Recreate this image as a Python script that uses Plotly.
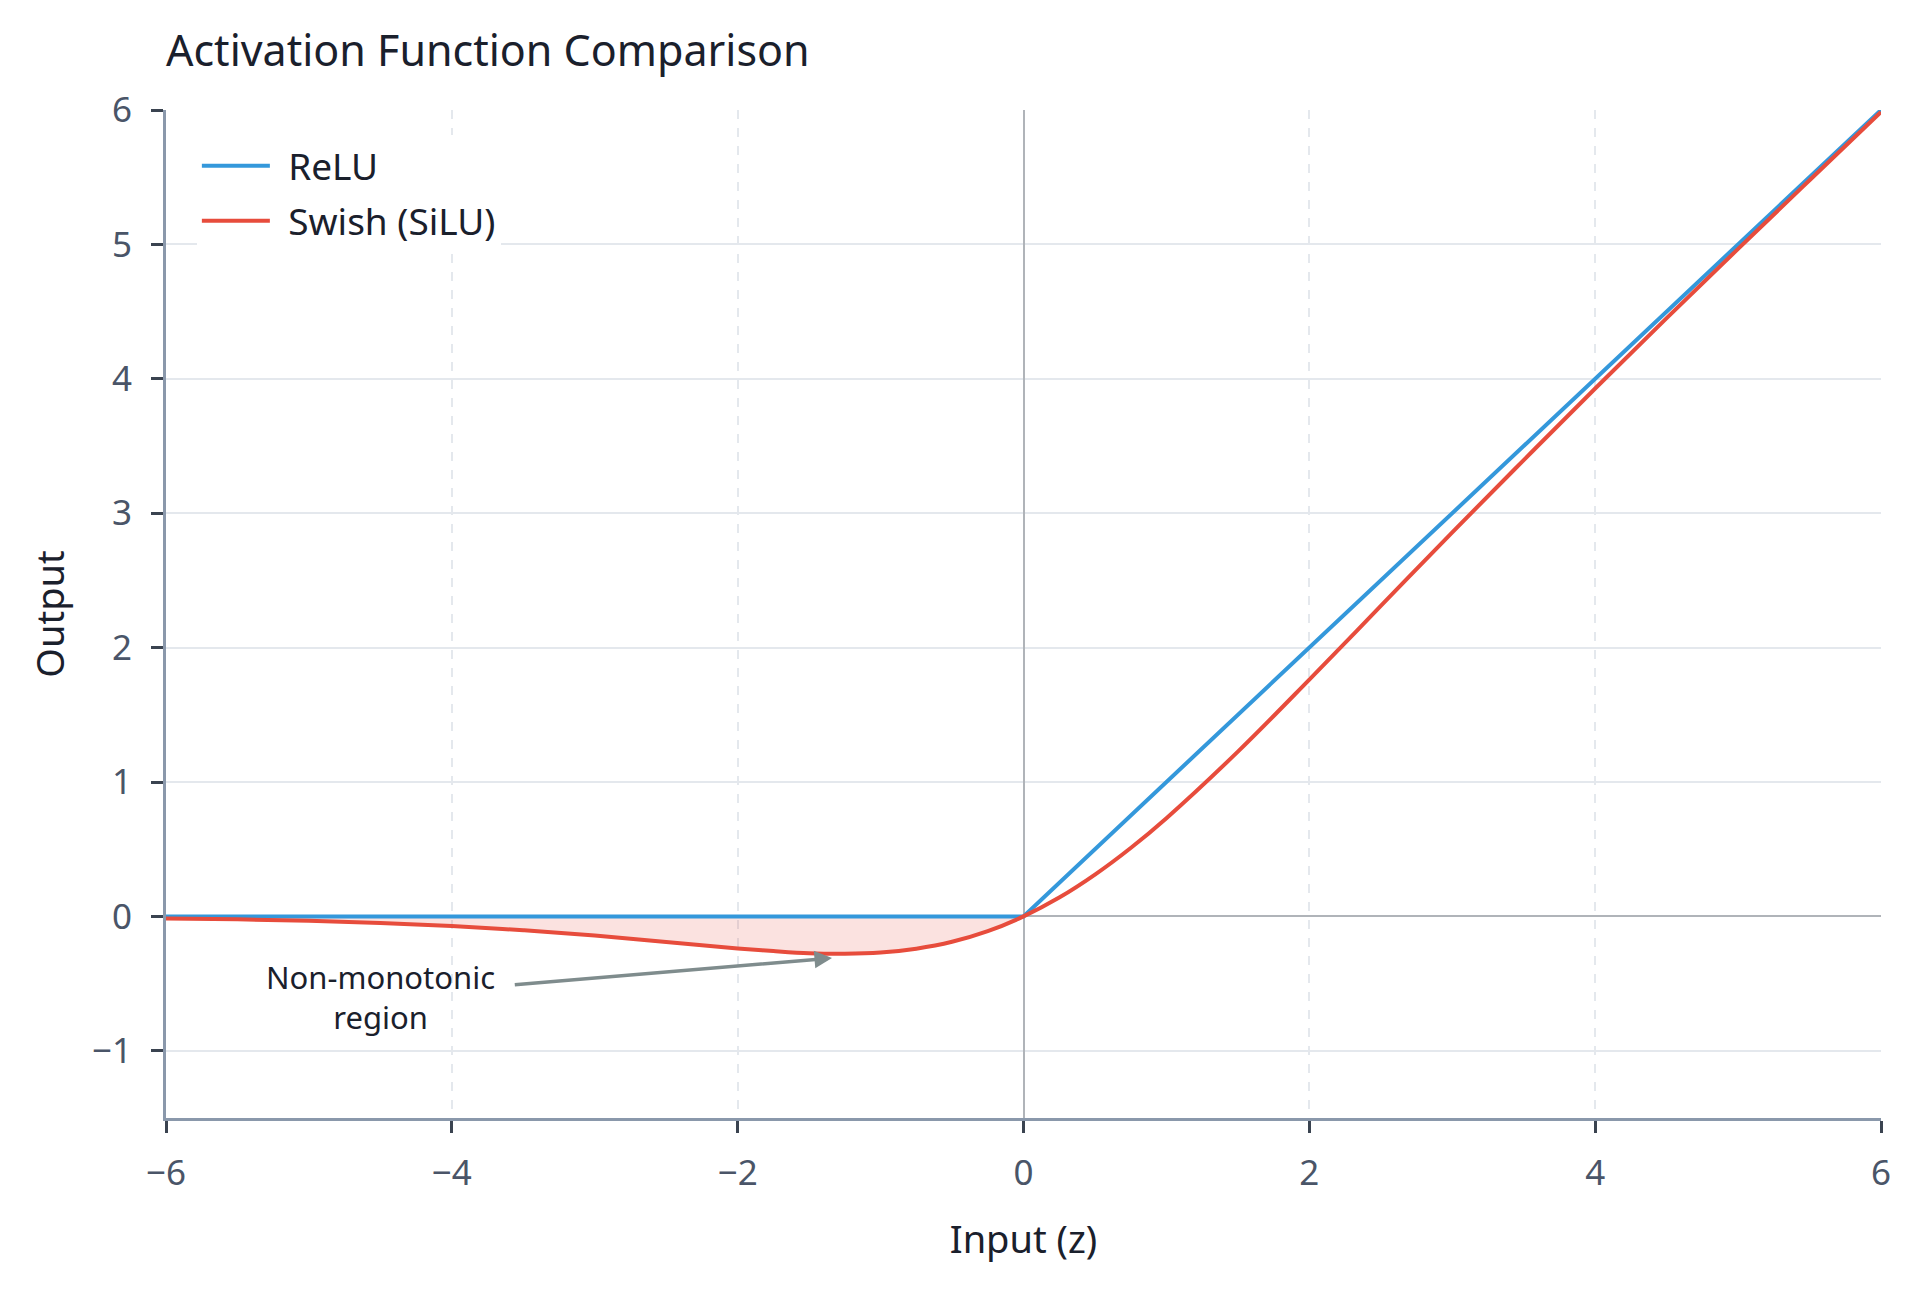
import plotly.graph_objects as go

# ReLU: piecewise linear, only the corners are needed
relu_x = [-6, 0, 6]
relu_y = [0, 0, 6]

# Swish (SiLU), values
swish_x = [-6, -5.5, -5, -4.5, -4, -3.5, -3, -2.5, -2, -1.75, -1.5, -1.25, -1, -0.75, -0.5, -0.25,
           0, 0.25, 0.5, 0.75, 1, 1.5, 2, 2.5, 3, 3.5, 4, 4.5, 5, 5.5, 6]
swish_y = [-0.015, -0.022, -0.033, -0.049, -0.072, -0.103, -0.142, -0.19, -0.238, -0.258, -0.274, -0.278,
           -0.269, -0.24, -0.189, -0.11, 0, 0.14, 0.311, 0.509, 0.731, 1.226, 1.762, 2.31, 2.858, 3.395,
           3.928, 4.451, 4.967, 5.477, 5.985]

# non-monotonic part (z < 0) gets shaded against the zero line
neg_x = [x for x in swish_x if x <= 0]
neg_y = swish_y[:len(neg_x)]

FONT = "Noto Sans"
GAP = '\u00a0\u200a'  # a bit of air between legend line and label

fig = go.Figure()

fig.add_trace(go.Scatter(x=neg_x, y=neg_y, mode='lines', line=dict(width=0, shape='spline'),
                         fill='tozeroy', fillcolor='rgba(231,76,60,0.16)',
                         showlegend=False, hoverinfo='skip'))
fig.add_trace(go.Scatter(x=relu_x, y=relu_y, mode='lines', name=GAP + 'ReLU', legendgroup='relu',
                         line=dict(color='#3498db', width=4)))
fig.add_trace(go.Scatter(x=swish_x, y=swish_y, mode='lines', name=GAP + 'Swish (SiLU)', legendgroup='swish',
                         line=dict(color='#e74c3c', width=4, shape='spline')))

fig.add_annotation(x=-1.34, y=-0.31, ax=-3.57, ay=-0.51, xref='x', yref='y', axref='x', ayref='y',
                   text='', showarrow=True, arrowhead=2, arrowsize=1, arrowwidth=3.5,
                   arrowcolor='#7f8c8d')
fig.add_annotation(x=-4.5, y=-0.6, xref='x', yref='y', text='Non-monotonic<br>region',
                   showarrow=False, font=dict(family=FONT, size=31, color='#1a202c'))

fig.update_layout(
    title=dict(text='Activation Function Comparison', x=0, xref='paper', xanchor='left',
               y=0.966, yref='container', yanchor='middle',
               font=dict(family=FONT, size=43, color='#1a202c')),
    font=dict(family=FONT, size=35, color='#4a5568'),
    plot_bgcolor='white',
    paper_bgcolor='white',
    margin=dict(l=158, r=31, t=102, b=166),
    legend=dict(x=0.018, y=0.975, xanchor='left', yanchor='top', bgcolor='white',
                font=dict(family=FONT, size=37, color='#1a202c'), tracegroupgap=4,
                itemwidth=68, traceorder='grouped'),
    showlegend=True,
)

fig.update_xaxes(
    range=[-6, 6], dtick=2, tick0=-6,
    showgrid=True, gridcolor='#e4e8ed', gridwidth=2, griddash='dash',
    zeroline=True, zerolinecolor='#b0b4b9', zerolinewidth=2,
    showline=True, linecolor='#8a98ab', linewidth=3,
    ticks='outside', ticklen=12, tickwidth=3, tickcolor='#3a4350', ticklabelstandoff=10,
    title=dict(text='Input (z)', font=dict(family=FONT, size=38, color='#1a202c'), standoff=33),
)
fig.update_yaxes(
    range=[-1.5, 6], dtick=1,
    showgrid=True, gridcolor='#e4e8ed', gridwidth=2,
    zeroline=True, zerolinecolor='#b0b4b9', zerolinewidth=2,
    showline=True, linecolor='#8a98ab', linewidth=3,
    ticks='outside', ticklen=12, tickwidth=3, tickcolor='#3a4350', ticklabelstandoff=12,
    title=dict(text='Output', font=dict(family=FONT, size=38, color='#1a202c'), standoff=16),
)

fig.write_html("out.html")
